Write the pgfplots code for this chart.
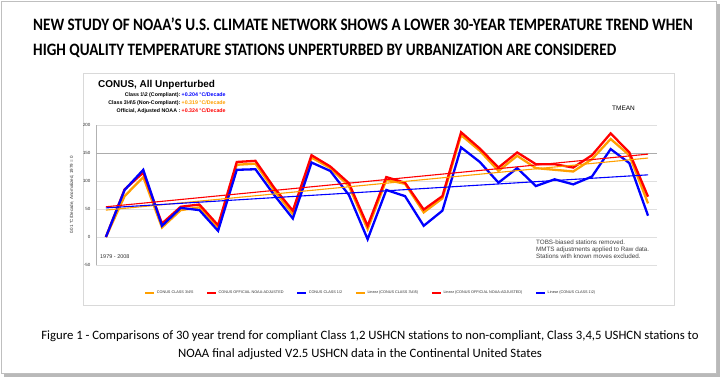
\documentclass[border=0pt]{standalone}
\usepackage{pgfplots}
\pgfplotsset{compat=1.18}
\usepackage{fontspec}
\setmainfont{Liberation Sans}
\newfontfamily\calfont{Carlito}
\definecolor{xorange}{RGB}{255,160,0}
\definecolor{xblue}{RGB}{0,0,255}
\definecolor{xred}{RGB}{255,0,0}

\pgfplotstableread{
year  c12  noaa  c345
1979  0    0     0
1980  84   85    73
1981  120  115   107
1982  20   24    17
1983  52   54    48
1984  48   58    53
1985  11   21    17
1986  120  134   129
1987  121  136   131
1988  75   88    83
1989  33   47    41
1990  133  146   142
1991  118  126   123
1992  75   96    91
1993  -4   20    14
1994  84   107   102
1995  73   97    95
1996  20   49    44
1997  47   73    69
1998  160  187   182
1999  134  158   154
2000  97   124   118
2001  123  151   145
2002  91   130   123
2003  103  130   120
2004  94   124   117
2005  108  146   139
2006  157  185   175
2007  132  151   146
2008  38   72    60
}\datatable

\pgfplotstableread{
year  c12  noaa  c345
1979  52   54    48
2008  111  148   141
}\trendtable

\begin{document}
\begin{tikzpicture}
\begin{scope}[x=1bp,y=1bp]
\useasboundingbox (0,0) rectangle (720,377);
\fill[white] (0,0) rectangle (720,377);
\fill[gray!55] (4,0.5) rectangle (719.5,373);
\fill[white] (1,4) rectangle (716,376);
\draw[gray!50, line width=0.6] (1,4) rectangle (716,376);
% chart box
\draw[gray!30, line width=0.8] (83,72) rectangle (674,304);
% title
\node[anchor=base west, inner sep=0, font=\calfont\bfseries\fontsize{15.2}{17}\selectfont] at (33,347) {\scalebox{1}[1.15]{NEW STUDY OF NOAA’S U.S. CLIMATE NETWORK SHOWS A LOWER 30-YEAR TEMPERATURE TREND WHEN}};
\node[anchor=base west, inner sep=0, font=\calfont\bfseries\fontsize{15.2}{17}\selectfont] at (33,322) {\scalebox{1}[1.15]{HIGH QUALITY TEMPERATURE STATIONS UNPERTURBED BY URBANIZATION ARE CONSIDERED}};
% caption
\node[anchor=base, inner sep=0, font=\calfont\fontsize{12.8}{14}\selectfont] at (370,38) {Figure 1 - Comparisons of 30 year trend for compliant Class 1,2 USHCN stations to non-compliant, Class 3,4,5 USHCN stations to};
\node[anchor=base, inner sep=0, font=\calfont\fontsize{12.8}{14}\selectfont] at (360,20) {NOAA final adjusted V2.5 USHCN data in the Continental United States};
% chart texts
\node[anchor=base west, inner sep=0, font=\bfseries\fontsize{10}{12}\selectfont] at (98,290) {CONUS, All Unperturbed};
\node[anchor=base east, inner sep=0, font=\bfseries\fontsize{5.3}{6}\selectfont] at (180.5,281) {Class 1\textbackslash 2 (Compliant):};
\node[anchor=base west, inner sep=0, font=\bfseries\fontsize{5.3}{6}\selectfont, text=xblue] at (181.5,281) {+0.204 °C/Decade};
\node[anchor=base east, inner sep=0, font=\bfseries\fontsize{5.3}{6}\selectfont] at (180.5,273) {Class 3\textbackslash 4\textbackslash 5 (Non-Compliant):};
\node[anchor=base west, inner sep=0, font=\bfseries\fontsize{5.3}{6}\selectfont, text=xorange] at (181.5,273) {+0.319 °C/Decade};
\node[anchor=base east, inner sep=0, font=\bfseries\fontsize{5.3}{6}\selectfont] at (180.5,265) {Official, Adjusted NOAA :};
\node[anchor=base west, inner sep=0, font=\bfseries\fontsize{5.3}{6}\selectfont, text=xred] at (181.5,265) {+0.324 °C/Decade};
\node[anchor=base west, inner sep=0, font=\fontsize{6.5}{8}\selectfont] at (612,267) {TMEAN};
\node[anchor=base west, inner sep=0, font=\fontsize{5.5}{7}\selectfont, text=black!80] at (100,119) {1979 - 2008};
\node[anchor=base west, inner sep=0, font=\fontsize{6.3}{7}\selectfont, text=black!75] at (536,132.5) {TOBS-biased stations removed.};
\node[anchor=base west, inner sep=0, font=\fontsize{6.3}{7}\selectfont, text=black!75] at (536,125.5) {MMTS adjustments applied to Raw data.};
\node[anchor=base west, inner sep=0, font=\fontsize{6.3}{7}\selectfont, text=black!75] at (536,118.5) {Stations with known moves excluded.};
\end{scope}
\begin{axis}[
  at={(96bp,112bp)}, anchor=south west,
  scale only axis, width=561bp, height=140bp,
  xmin=1978.47, xmax=2008.48, ymin=-50, ymax=200,
  axis x line=none, axis y line=left,
  y axis line style={-, draw=gray!60},
  ytick={-50,0,50,100,150,200},
  extra y ticks={150}, extra y tick labels={},
  extra y tick style={grid style={gray!65, line width=0.8bp}, major tick length=0pt},
  ymajorgrids, grid style={gray!25, line width=0.8bp},
  major tick length=0pt,
  yticklabel style={font=\fontsize{4.5}{5}\selectfont, text=black!80, xshift=-2bp},
  /pgf/number format/assume math mode=true,
  ylabel={0.01 °C/Decade, Anomalized, 1979 = 0},
  ylabel style={at={(axis description cs:-0.043,0.5)}, anchor=center, font=\fontsize{4.5}{5}\selectfont, text=black!80},
  legend columns=6,
  legend style={at={(0.49,-0.2)}, anchor=center, draw=none, fill=none,
    font=\fontsize{3.8}{4.5}\selectfont, text=black!80,
    /tikz/every even column/.append style={column sep=11bp}},
  legend image code/.code={\draw[#1, line width=1.3bp] (0bp,0bp) -- (9bp,0bp);},
  clip=false,
]
\addplot[xorange, line width=2.3bp] table[x=year, y=c345] {\datatable};
\addlegendentry{CONUS CLASS 3\textbackslash 4\textbackslash 5}
\addplot[xred, line width=2.3bp] table[x=year, y=noaa] {\datatable};
\addlegendentry{CONUS OFFICIAL NOAA-ADJUSTED}
\addplot[xblue, line width=2.3bp] table[x=year, y=c12] {\datatable};
\addlegendentry{CONUS CLASS 1\textbackslash 2}
\addplot[xorange, line width=1.1bp] table[x=year, y=c345] {\trendtable};
\addlegendentry{Linear (CONUS CLASS 3\textbackslash 4\textbackslash 5)}
\addplot[xred, line width=1.1bp] table[x=year, y=noaa] {\trendtable};
\addlegendentry{Linear (CONUS OFFICIAL NOAA-ADJUSTED)}
\addplot[xblue, line width=1.1bp] table[x=year, y=c12] {\trendtable};
\addlegendentry{Linear (CONUS CLASS 1\textbackslash 2)}
\end{axis}
\end{tikzpicture}
\end{document}
